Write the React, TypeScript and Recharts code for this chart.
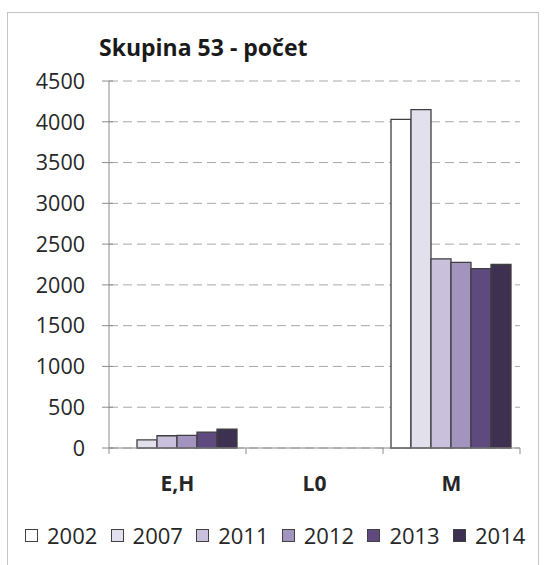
import { BarChart, Bar, XAxis, YAxis, CartesianGrid } from 'recharts';

const categories = ['E,H', 'L0', 'M'];
const years = ['2002', '2007', '2011', '2012', '2013', '2014'];
const v2002 = [0, 0, 4030];
const v2007 = [100, 0, 4150];
const v2011 = [150, 0, 2320];
const v2012 = [155, 0, 2275];
const v2013 = [195, 0, 2200];
const v2014 = [230, 0, 2250];
const yTicks = [0, 500, 1000, 1500, 2000, 2500, 3000, 3500, 4000, 4500];
const title = 'Skupina 53 - počet';

const colors = ['#ffffff', '#e3e0ee', '#c9c1dc', '#a393bf', '#5f4a80', '#3e3050'];
const series = [v2002, v2007, v2011, v2012, v2013, v2014];

const data = categories.map((name, i) => {
    const row: Record<string, string | number> = { name };
    years.forEach((y, k) => { row[y] = series[k][i]; });
    return row;
});

const W = 544, H = 565;
const LEFT = 109, RIGHT = 24, TOP = 81, BOTTOM_PLOT = 448;
const BAND = (W - LEFT - RIGHT) / categories.length;
const FONT = '"Open Sans", "Noto Sans", sans-serif';
const AXIS = '#8c8c8c';
const TEXT = '#262626';

const YTick = (p: any) => (
    <g>
        <line x1={LEFT - 7} x2={LEFT + 4} y1={p.y} y2={p.y} stroke={AXIS} />
        <text x={85} y={p.y} dy="0.36em" textAnchor="end" fontFamily={FONT} fontSize={21.5} fill={TEXT}>
            {p.payload.value}
        </text>
    </g>
);

const XTick = (p: any) => (
    <g>
        <line x1={p.x - BAND / 2} x2={p.x - BAND / 2} y1={BOTTOM_PLOT} y2={BOTTOM_PLOT + 6} stroke={AXIS} />
        {p.index === categories.length - 1 && (
            <line x1={p.x + BAND / 2} x2={p.x + BAND / 2} y1={BOTTOM_PLOT} y2={BOTTOM_PLOT + 6} stroke={AXIS} />
        )}
        <text x={p.x} y={491} textAnchor="middle" fontFamily={FONT} fontWeight={700} fontSize={21} fill={TEXT}>
            {p.payload.value}
        </text>
    </g>
);

export default function App() {
    return (
        <div style={{ position: 'absolute', left: 0, top: 0, width: W, height: H, overflow: 'hidden', background: '#fff' }}>
            <div style={{ position: 'absolute', left: 7, top: 12, width: 530, height: 600, border: '1px solid #c4c4c4' }} />
            <div style={{ position: 'absolute', left: 99, top: 31, fontFamily: FONT, fontWeight: 700, fontSize: 23, color: '#1a1a1a', whiteSpace: 'nowrap' }}>
                {title}
            </div>
            <div style={{ position: 'absolute', left: 0, top: 0 }}>
                <BarChart width={W} height={H} data={data}
                    margin={{ top: TOP, right: RIGHT, bottom: H - BOTTOM_PLOT - 40, left: 0 }}
                    barCategoryGap={8} barGap={0}>
                    <CartesianGrid vertical={false} stroke="#a8a8a8" strokeDasharray="9 5" />
                    <XAxis dataKey="name" height={40} axisLine={{ stroke: AXIS }} tickLine={false} tick={XTick} interval={0} />
                    <XAxis xAxisId="top" dataKey="name" orientation="top" height={0} tick={false} tickLine={false} axisLine={{ stroke: '#b0b0b0' }} />
                    <YAxis width={LEFT} domain={[0, 4500]} ticks={yTicks} interval={0} axisLine={{ stroke: AXIS }} tickLine={false} tick={YTick} />
                    <YAxis yAxisId="right" orientation="right" width={0} domain={[0, 4500]} tick={false} tickLine={false} axisLine={{ stroke: '#b0b0b0' }} />
                    {years.map((y, k) => (
                        <Bar key={y} dataKey={y} fill={colors[k]} stroke="#3f3f3f" strokeWidth={1.3} isAnimationActive={false} />
                    ))}
                </BarChart>
            </div>
            <div style={{ position: 'absolute', left: 25, top: 520, display: 'flex', fontFamily: FONT, fontSize: 22, color: TEXT }}>
                {years.map((y, k) => (
                    <div key={y} style={{ width: 85.6, display: 'flex', alignItems: 'center' }}>
                        <span style={{ width: 11, height: 11, border: '1px solid #404040', background: colors[k], marginRight: 9 }} />
                        <span>{y}</span>
                    </div>
                ))}
            </div>
        </div>
    );
}
